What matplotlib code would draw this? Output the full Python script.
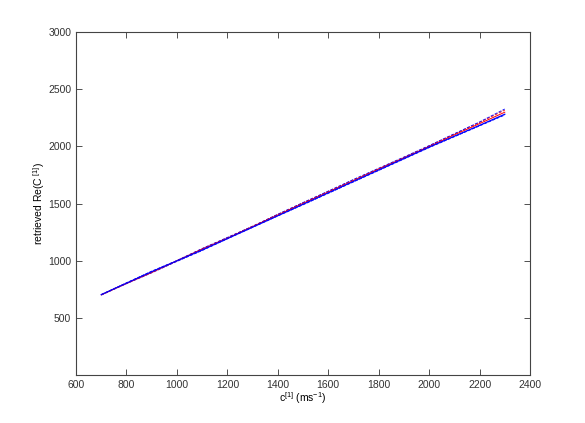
import matplotlib
matplotlib.use("Agg")
import matplotlib.pyplot as plt

# true phase speed c^[1] and retrieved Re(C^[1]) for a few runs
c_true = [700, 800, 900, 1000, 1100, 1200, 1300, 1400, 1500, 1600, 1700, 1800, 1900, 2000, 2100, 2200, 2300]
ret_mean = [705, 805, 905, 1000, 1095, 1195, 1295, 1395, 1495, 1595, 1695, 1795, 1895, 1995, 2090, 2185, 2282]
ret_red = [703, 802, 898, 1000, 1102, 1198, 1300, 1402, 1503, 1602, 1702, 1803, 1900, 2000, 2102, 2200, 2300]
ret_red_hi = [704, 806, 904, 1002, 1106, 1202, 1302, 1405, 1507, 1607, 1708, 1806, 1904, 2005, 2108, 2210, 2318]
ret_blue_hi = [705, 808, 910, 1003, 1108, 1205, 1303, 1408, 1510, 1610, 1712, 1810, 1908, 2008, 2112, 2215, 2328]
ret_blue_lo = [700, 800, 895, 995, 1090, 1192, 1292, 1392, 1490, 1590, 1690, 1790, 1890, 1990, 2085, 2180, 2275]

plt.rcParams['font.family'] = ['Liberation Sans', 'DejaVu Sans']
plt.rcParams['mathtext.default'] = 'regular'

fig = plt.figure(figsize=(5.85, 4.23), dpi=100)
ax = fig.add_axes([0.13, 0.113, 0.776, 0.811])

ax.plot(c_true, ret_red_hi, '--', color='red', lw=0.6)
ax.plot(c_true, ret_blue_hi, '--', color='blue', lw=0.6)
ax.plot(c_true, ret_blue_lo, '--', color='blue', lw=0.6)
ax.plot(c_true, ret_red, '-', color='red', lw=0.7)
ax.plot(c_true, ret_mean, '-', color='blue', lw=0.9)

ax.set_xlim(600, 2400)
ax.set_ylim(0, 3000)
ax.set_xticks(range(600, 2401, 200))
ax.set_yticks(range(500, 3001, 500))
ax.tick_params(direction='in', length=4, width=0.6, labelsize=7.5, top=True, right=True, colors='#333333')
for s in ax.spines.values():
    s.set_linewidth(0.8)
    s.set_color('#444444')

ax.set_xlabel('c$^{[1]}$ (ms$^{-1}$)', fontsize=7.5, labelpad=0)
ax.set_ylabel('retrieved Re(C$^{\\ [1]}$)', fontsize=7.5, labelpad=1)

plt.savefig('out.png', dpi=100)
